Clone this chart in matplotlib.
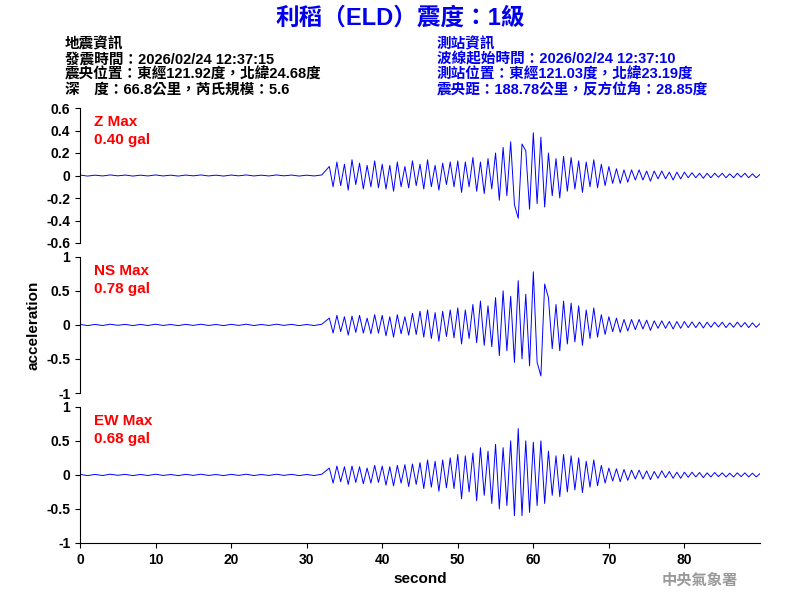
import numpy as np
import matplotlib
matplotlib.use("Agg")
import matplotlib.pyplot as plt

plt.rcParams['font.family'] = ['Liberation Sans', 'Noto Sans CJK TC', 'DejaVu Sans']

# quiet pre-event noise, 1 s steps from 0 to 32
pre_z = [0.004,-0.005,0.003,-0.004,0.005,-0.003,0.004,-0.005,0.003,-0.004,0.005,-0.004,0.003,-0.005,0.004,-0.003,
         0.005,-0.004,0.003,-0.005,0.004,-0.003,0.005,-0.004,0.003,-0.004,0.005,-0.003,0.004,-0.005,0.003,-0.004,0.005]
pre_ns = [0.008,-0.01,0.007,-0.009,0.01,-0.006,0.008,-0.01,0.007,-0.009,0.01,-0.008,0.006,-0.01,0.008,-0.007,
          0.01,-0.008,0.006,-0.01,0.008,-0.007,0.01,-0.009,0.006,-0.008,0.01,-0.007,0.008,-0.01,0.006,-0.009,0.01]
pre_ew = pre_ns
# event part, 0.5 s steps from 33 to 90
z_vals = [0.08,-0.1,0.12,-0.09,0.1,-0.13,0.14,-0.08,0.11,-0.12,0.09,-0.1,0.13,-0.11,
          0.1,-0.12,0.09,-0.14,0.12,-0.1,0.08,-0.11,0.13,-0.09,0.1,-0.12,0.14,-0.1,0.09,-0.13,0.11,-0.08,0.12,-0.1,
          0.13,-0.15,0.12,-0.1,0.16,-0.14,0.12,-0.16,0.15,-0.12,
          0.2,-0.22,0.25,-0.18,0.3,-0.26,-0.38,0.28,0.22,-0.3,0.38,-0.25,0.34,-0.28,
          0.2,-0.18,0.15,-0.2,0.17,-0.14,0.16,-0.12,0.13,-0.15,0.12,-0.1,0.14,-0.11,0.1,-0.09,
          0.08,-0.07,0.06,-0.07,0.05,-0.06,0.05,-0.04,0.05,-0.04,0.04,-0.05,0.04,-0.03,0.04,-0.03,0.03,-0.04,0.03,-0.03,
          0.03,-0.02,0.025,-0.02,0.02,-0.025,0.02,-0.02,0.02,-0.015,0.02,-0.02,0.015,-0.02,0.02,-0.015,0.02,-0.02,0.015,-0.02,0.01]
ns_vals = [0.1,-0.12,0.14,-0.1,0.12,-0.15,0.13,-0.11,0.14,-0.12,0.1,-0.13,0.15,-0.12,
           0.14,-0.16,0.12,-0.18,0.15,-0.13,0.12,-0.15,0.17,-0.14,0.2,-0.18,0.22,-0.2,0.18,-0.24,0.2,-0.17,0.22,-0.19,
           0.25,-0.28,0.22,-0.2,0.3,-0.26,0.35,-0.3,0.28,-0.32,
           0.4,-0.45,0.5,-0.38,0.42,-0.55,0.65,-0.5,0.45,-0.6,0.78,-0.55,-0.75,0.6,
           0.4,-0.35,0.3,-0.38,0.35,-0.28,0.32,-0.25,0.28,-0.3,0.22,-0.2,0.25,-0.18,0.15,-0.14,
           0.12,-0.1,0.1,-0.11,0.08,-0.09,0.08,-0.07,0.08,-0.06,0.07,-0.08,0.06,-0.05,0.06,-0.05,0.05,-0.06,0.05,-0.05,
           0.05,-0.04,0.045,-0.04,0.04,-0.045,0.04,-0.035,0.04,-0.03,0.04,-0.04,0.03,-0.035,0.04,-0.03,0.035,-0.04,0.03,-0.035,0.02]
ew_vals = [0.1,-0.12,0.13,-0.1,0.12,-0.14,0.13,-0.11,0.12,-0.13,0.1,-0.12,0.14,-0.11,
           0.13,-0.15,0.12,-0.16,0.14,-0.12,0.15,-0.17,0.16,-0.14,0.18,-0.2,0.22,-0.18,0.2,-0.24,0.22,-0.19,0.25,-0.2,
           0.3,-0.35,0.28,-0.25,0.32,-0.38,0.4,-0.3,0.35,-0.42,
           0.45,-0.5,0.4,-0.45,0.5,-0.6,0.68,-0.6,0.5,-0.55,0.48,-0.45,0.5,-0.42,
           0.35,-0.3,0.28,-0.32,0.3,-0.25,0.28,-0.22,0.25,-0.26,0.2,-0.18,0.22,-0.16,0.14,-0.12,
           0.1,-0.09,0.09,-0.1,0.08,-0.08,0.07,-0.06,0.07,-0.06,0.06,-0.07,0.05,-0.05,0.06,-0.04,0.05,-0.05,0.04,-0.05,
           0.04,-0.035,0.04,-0.03,0.035,-0.04,0.03,-0.03,0.035,-0.025,0.03,-0.03,0.025,-0.03,0.03,-0.025,0.03,-0.03,0.025,-0.03,0.02]

t_pre = np.arange(0, 33, 1.0)
t_evt = 33 + 0.5 * np.arange(len(z_vals))

labels = ["Z Max\n0.40 gal", "NS Max\n0.78 gal", "EW Max\n0.68 gal"]
series = [(pre_z, z_vals), (pre_ns, ns_vals), (pre_ew, ew_vals)]
ylims = [(-0.6, 0.6), (-1, 1), (-1, 1)]
yticks = [[-0.6,-0.4,-0.2,0,0.2,0.4,0.6], [-1,-0.5,0,0.5,1], [-1,-0.5,0,0.5,1]]
ytl = [["-0.6","-0.4","-0.2","0","0.2","0.4","0.6"], ["-1","-0.5","0","0.5","1"], ["-1","-0.5","0","0.5","1"]]

fig = plt.figure(figsize=(8, 6), dpi=100)
boxes = [(0.82, 0.595), (0.572, 0.345), (0.322, 0.095)]
for i, ((top, bot), (pre, ev)) in enumerate(zip(boxes, series)):
    ax = fig.add_axes([0.1, bot, 0.85, top - bot])
    t = np.concatenate([t_pre, t_evt])
    y = np.concatenate([pre, ev])
    ax.plot(t, y, color='blue', lw=0.7)
    ax.set_xlim(0, 90)
    ax.set_ylim(*ylims[i])
    ax.set_yticks(yticks[i]); ax.set_yticklabels(ytl[i], fontweight='bold', fontsize=10)
    for s in ['top', 'right']:
        ax.spines[s].set_visible(False)
    if i < 2:
        ax.spines['bottom'].set_visible(False)
        ax.set_xticks([])
    else:
        ax.set_xticks(range(0, 90, 10))
        ax.set_xticklabels([str(v) for v in range(0, 90, 10)], fontweight='bold', fontsize=10)
        ax.set_xlabel("second", fontsize=11, fontweight='bold')
    ax.text(0.02, 0.95, labels[i], transform=ax.transAxes, color='red', fontsize=11,
            fontweight='bold', va='top', linespacing=1.4)
    if i == 1:
        ax.set_ylabel("acceleration", fontsize=11, fontweight='bold')

fig.text(0.5, 0.97, "利稻（ELD）震度：1級", color='#0000ee', fontsize=17, fontweight='bold',
         ha='center', va='center')
left = ["地震資訊", "發震時間：2026/02/24 12:37:15", "震央位置：東經121.92度，北緯24.68度",
        "深　度：66.8公里，芮氏規模：5.6"]
right = ["測站資訊", "波線起始時間：2026/02/24 12:37:10", "測站位置：東經121.03度，北緯23.19度",
         "震央距：188.78公里，反方位角：28.85度"]
for k, (a, b) in enumerate(zip(left, right)):
    yy = 1 - (44 + 15.3 * k) / 600
    fig.text(65 / 800, yy, a, fontsize=10.5, color='black', va='center', fontweight='bold')
    fig.text(437 / 800, yy, b, fontsize=10.5, color='#0000ee', va='center', fontweight='bold')
fig.text(700 / 800, 1 - 580 / 600, "中央氣象署", fontsize=11, color='#999999', ha='center',
         va='center', fontweight='bold')
fig.savefig("out.png", dpi=100)
